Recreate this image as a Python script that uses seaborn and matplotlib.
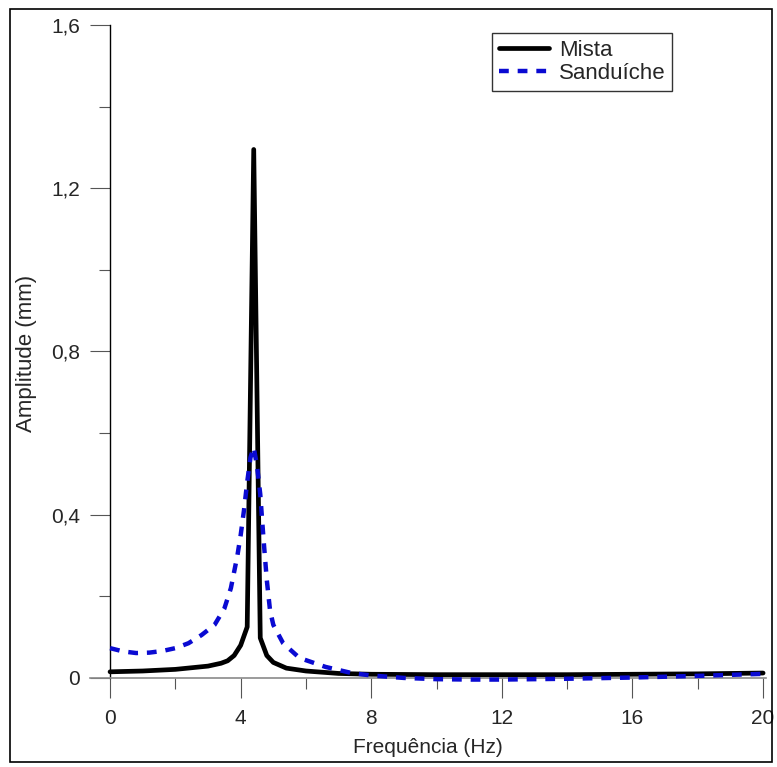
import seaborn as sns
import matplotlib.pyplot as plt
import matplotlib.ticker as mticker
from matplotlib.patches import Rectangle
import pandas as pd

sns.set_style('ticks')
plt.rcParams['font.family'] = ['Liberation Sans', 'DejaVu Sans']

# Mista (estrutura mista)
freq_mista = [0, 1, 2, 3, 3.4, 3.6, 3.8, 4.0, 4.2, 4.4, 4.6, 4.8, 5.0, 5.4, 6, 7, 8, 10, 12, 14, 16, 18, 20]
amp_mista = [0.015, 0.017, 0.021, 0.029, 0.036, 0.042, 0.055, 0.08, 0.125, 1.295, 0.098, 0.055, 0.038,
             0.024, 0.017, 0.011, 0.009, 0.008, 0.008, 0.008, 0.009, 0.010, 0.012]

# Sanduiche
freq_sand = [0, 0.4, 0.8, 1.2, 1.6, 2.0, 2.4, 2.8, 3.2, 3.5, 3.7, 3.9, 4.0, 4.1, 4.2, 4.3, 4.4, 4.5, 4.6,
             4.7, 4.8, 4.9, 5.0, 5.3, 5.8, 6.6, 7.4, 8, 9, 10, 11, 12, 13, 14, 16, 18, 20]
amp_sand = [0.073, 0.065, 0.061, 0.062, 0.066, 0.073, 0.085, 0.105, 0.13, 0.17, 0.22, 0.30, 0.35, 0.41,
            0.48, 0.54, 0.565, 0.52, 0.45, 0.34, 0.24, 0.165, 0.13, 0.085, 0.049, 0.027, 0.012, 0.006,
            0.0, -0.003, -0.004, -0.004, -0.003, -0.002, 0.001, 0.005, 0.01]

df_m = pd.DataFrame({'Frequência (Hz)': freq_mista, 'Amplitude (mm)': amp_mista})
df_s = pd.DataFrame({'Frequência (Hz)': freq_sand, 'Amplitude (mm)': amp_sand})

fig = plt.figure(figsize=(7.77, 7.67), dpi=100)
ax = fig.add_axes([0.1156, 0.1108, 0.8707, 0.8566])

sns.lineplot(data=df_m, x='Frequência (Hz)', y='Amplitude (mm)', ax=ax, color='black',
             linewidth=3.4, label='Mista', clip_on=False, zorder=3)
sns.lineplot(data=df_s, x='Frequência (Hz)', y='Amplitude (mm)', ax=ax, color='#0a0ad2',
             linewidth=3.2, label='Sanduíche', clip_on=False, zorder=4)
ax.lines[1].set_dashes((2.2, 2.0))

ax.set_xlim(-0.62, 20.1)
ax.set_ylim(-0.01, 1.6)

for s in ['top', 'right']:
    ax.spines[s].set_visible(False)
ax.spines['left'].set_position(('data', 0))
ax.spines['left'].set_bounds(0, 1.6)
ax.spines['bottom'].set_position(('data', 0))
ax.spines['left'].set_color('black')
ax.spines['bottom'].set_color('#8a8a8a')
ax.spines['left'].set_linewidth(1)
ax.spines['bottom'].set_linewidth(1.2)

ax.xaxis.set_major_locator(mticker.FixedLocator([0, 4, 8, 12, 16, 20]))
ax.xaxis.set_minor_locator(mticker.FixedLocator([2, 6, 10, 14, 18]))
ax.yaxis.set_major_locator(mticker.FixedLocator([0, 0.4, 0.8, 1.2, 1.6]))
ax.yaxis.set_minor_locator(mticker.FixedLocator([0.2, 0.6, 1.0, 1.4]))
fmt = mticker.FuncFormatter(lambda v, p: ('%g' % round(v, 2)).replace('.', ','))
ax.xaxis.set_major_formatter(fmt)
ax.yaxis.set_major_formatter(fmt)

ax.tick_params(which='major', length=14.5, width=0.8, color='#555555', labelsize=15, pad=7)
ax.tick_params(which='minor', length=8, width=0.8, color='#555555')
ax.tick_params(axis='x', which='major', pad=8)

ax.set_xlabel('Frequência (Hz)', fontsize=15, labelpad=7)
ax.set_ylabel('Amplitude (mm)', fontsize=16, labelpad=10)

leg = ax.legend(loc='upper left', bbox_to_anchor=(492 / 777, 1 - 33 / 767), bbox_transform=fig.transFigure,
                borderaxespad=0, fontsize=16, handlelength=2.25, handletextpad=0.45,
                borderpad=0.3, labelspacing=0.1, fancybox=False, frameon=True)
leg.get_frame().set_edgecolor('black')
leg.get_frame().set_linewidth(1)

fig.patches.append(Rectangle((10 / 777, 5 / 767), 762 / 777, 753 / 767, transform=fig.transFigure,
                             fill=False, edgecolor='black', linewidth=1.2))

fig.savefig('out.png', dpi=100)
